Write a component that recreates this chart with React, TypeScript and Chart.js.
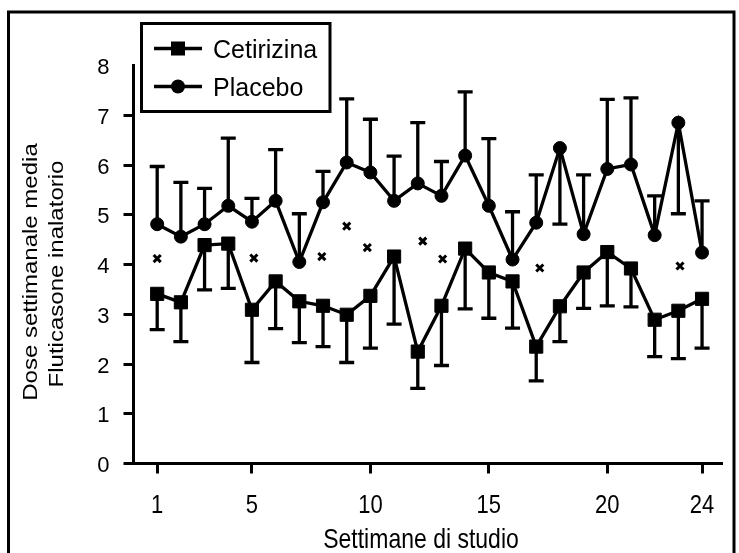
import { useEffect, useRef } from "react";
import { Chart, registerables } from "chart.js";

Chart.register(...registerables);

// Study weeks and weekly mean inhaled fluticasone dose per group
const weeks = [1, 2, 3, 4, 5, 6, 7, 8, 9, 10, 11, 12, 13, 14, 15, 16, 17, 18, 19, 20, 21, 22, 23, 24];
const cetirizina = [3.41, 3.24, 4.39, 4.42, 3.09, 3.66, 3.26, 3.17, 2.99, 3.37, 4.16, 2.25, 3.17, 4.32, 3.84, 3.66, 2.35, 3.16, 3.84, 4.25, 3.92, 2.89, 3.07, 3.31];
// lower end of each Cetirizina error bar
const cetirizinaBarEnd = [2.69, 2.45, 3.49, 3.52, 2.03, 2.71, 2.43, 2.35, 2.03, 2.32, 2.8, 1.51, 1.97, 3.11, 2.92, 2.72, 1.66, 2.45, 3.12, 3.17, 3.15, 2.15, 2.11, 2.32];
const placebo = [4.81, 4.56, 4.81, 5.18, 4.86, 5.28, 4.05, 5.25, 6.05, 5.85, 5.28, 5.63, 5.38, 6.19, 5.18, 4.1, 4.84, 6.34, 4.61, 5.92, 6.01, 4.59, 6.85, 4.24];
// end of each Placebo error bar (drawn toward this value)
const placeboBarEnd = [5.97, 5.65, 5.53, 6.54, 5.33, 6.31, 5.02, 5.87, 7.33, 6.92, 6.18, 6.85, 6.07, 7.47, 6.53, 5.06, 5.8, 4.81, 5.8, 7.32, 7.35, 5.38, 5.02, 5.28];

// significance marks
const markWeeks = [1, 5.08, 7.95, 9, 9.87, 12.21, 13.05, 17.15, 23.07];
const markValues = [4.12, 4.13, 4.16, 4.77, 4.34, 4.47, 4.11, 3.93, 3.97];

const xTicks = [1, 5, 10, 15, 20, 24];
const yTicks = [0, 1, 2, 3, 4, 5, 6, 7, 8];
const seriesNames = ["Cetirizina", "Placebo"];
const xTitle = "Settimane di studio";
const yTitle = ["Dose settimanale media", "Fluticasone inalatorio"];

const FONT = '"Liberation Sans", Arial, Helvetica, sans-serif';
const LINE_W = 3.3;

const errorBars = {
  id: "errorBars",
  beforeDatasetsDraw(chart: any) {
    const { ctx } = chart;
    const xs = chart.scales.x;
    const ys = chart.scales.y;
    const groups = [
      { values: cetirizina, ends: cetirizinaBarEnd },
      { values: placebo, ends: placeboBarEnd },
    ];
    ctx.save();
    ctx.strokeStyle = "#000";
    ctx.lineWidth = LINE_W;
    ctx.lineCap = "butt";
    groups.forEach((g) => {
      weeks.forEach((w, i) => {
        const x = xs.getPixelForValue(w);
        const y0 = ys.getPixelForValue(g.values[i]);
        const y1 = ys.getPixelForValue(g.ends[i]);
        ctx.beginPath();
        ctx.moveTo(x, y0);
        ctx.lineTo(x, y1);
        ctx.moveTo(x - 7.5, y1);
        ctx.lineTo(x + 7.5, y1);
        ctx.stroke();
      });
    });
    ctx.restore();
  },
};

const decor = {
  id: "decor",
  beforeDraw(chart: any) {
    const { ctx, width, height } = chart;
    ctx.save();
    ctx.fillStyle = "#fff";
    ctx.fillRect(0, 0, width, height);
    ctx.restore();
  },
  afterDraw(chart: any) {
    const { ctx } = chart;
    const xs = chart.scales.x;
    ctx.save();
    ctx.strokeStyle = "#000";
    ctx.fillStyle = "#000";

    // outer frame
    ctx.lineWidth = 3;
    ctx.beginPath();
    ctx.moveTo(8.5, 560);
    ctx.lineTo(8.5, 12);
    ctx.lineTo(734, 12);
    ctx.lineTo(734, 560);
    ctx.stroke();

    // x tick labels
    ctx.font = `22px ${FONT}`;
    ctx.textAlign = "center";
    ctx.textBaseline = "alphabetic";
    xTicks.forEach((t) => {
      const x = xs.getPixelForValue(t);
      ctx.save();
      ctx.translate(x, 513);
      ctx.scale(1, 1.2);
      ctx.fillText(String(t), 0, 0);
      ctx.restore();
    });

    // x title
    ctx.save();
    ctx.font = `23px ${FONT}`;
    ctx.translate(421, 548);
    ctx.scale(1, 1.2);
    ctx.fillText(xTitle, 0, 0);
    ctx.restore();

    // y title (two rotated lines)
    ctx.font = `20px ${FONT}`;
    const yLines = [
      { x: 36.5, y: 272 },
      { x: 63, y: 274 },
    ];
    yTitle.forEach((line, i) => {
      ctx.save();
      ctx.translate(yLines[i].x, yLines[i].y);
      ctx.rotate(-Math.PI / 2);
      ctx.scale(1.2, 1);
      ctx.fillText(line, 0, 0);
      ctx.restore();
    });

    // legend
    ctx.fillStyle = "#fff";
    ctx.fillRect(141.5, 23.5, 188.5, 88);
    ctx.fillStyle = "#000";
    ctx.lineWidth = 3;
    ctx.strokeRect(141.5, 23.5, 188.5, 88);
    const rows = [48.5, 86.5];
    ctx.font = `25px ${FONT}`;
    ctx.textAlign = "left";
    ctx.lineWidth = LINE_W;
    rows.forEach((ry, i) => {
      ctx.beginPath();
      ctx.moveTo(154, ry);
      ctx.lineTo(202, ry);
      ctx.stroke();
      if (i === 0) {
        ctx.fillRect(171, ry - 7, 14, 14);
      } else {
        ctx.beginPath();
        ctx.arc(178, ry, 7, 0, Math.PI * 2);
        ctx.fill();
      }
      ctx.fillText(seriesNames[i], 213, ry + 9.5);
    });
    ctx.restore();
  },
};

export default function App() {
  const canvasRef = useRef<HTMLCanvasElement | null>(null);

  useEffect(() => {
    document.body.style.margin = "0";
    const canvas = canvasRef.current;
    if (!canvas) return;

    const chart = new Chart(canvas, {
      type: "line",
      data: {
        datasets: [
          {
            label: seriesNames[0],
            data: weeks.map((w, i) => ({ x: w, y: cetirizina[i] })),
            borderColor: "#000",
            borderWidth: LINE_W,
            backgroundColor: "#000",
            pointStyle: "rect",
            pointRadius: 9.3,
            pointBorderWidth: 1,
            pointBackgroundColor: "#000",
            pointBorderColor: "#000",
            tension: 0,
          },
          {
            label: seriesNames[1],
            data: weeks.map((w, i) => ({ x: w, y: placebo[i] })),
            borderColor: "#000",
            borderWidth: LINE_W,
            backgroundColor: "#000",
            pointStyle: "circle",
            pointRadius: 6.5,
            pointBorderWidth: 1,
            pointBackgroundColor: "#000",
            pointBorderColor: "#000",
            tension: 0,
          },
          {
            label: "x",
            data: markWeeks.map((w, i) => ({ x: w, y: markValues[i] })),
            showLine: false,
            borderColor: "#000",
            backgroundColor: "#000",
            pointStyle: "crossRot",
            pointRadius: 5,
            pointBorderWidth: 3,
            pointBorderColor: "#000",
          },
        ],
      },
      options: {
        responsive: false,
        animation: false,
        devicePixelRatio: 1,
        events: [],
        layout: { padding: { top: 65.5, right: 18, left: 0, bottom: 0 } },
        plugins: {
          legend: { display: false },
          tooltip: { enabled: false },
        },
        scales: {
          x: {
            type: "linear",
            min: 0,
            max: 24.8,
            afterBuildTicks: (s: any) => {
              s.ticks = xTicks.map((v) => ({ value: v }));
            },
            afterFit: (s: any) => {
              s.height = 89.5;
            },
            ticks: { display: false },
            grid: {
              drawOnChartArea: false,
              drawTicks: true,
              tickLength: 10,
              lineWidth: 3,
              color: "#000",
            },
            border: { display: true, width: 3, color: "#000" },
          },
          y: {
            type: "linear",
            min: 0,
            max: 8,
            afterBuildTicks: (s: any) => {
              s.ticks = yTicks.map((v) => ({ value: v }));
            },
            afterFit: (s: any) => {
              s.width = 133.5;
            },
            ticks: {
              color: "#000",
              font: { family: FONT, size: 22 },
              padding: 14,
              labelOffset: 2.5,
            },
            grid: {
              drawOnChartArea: false,
              drawTicks: true,
              tickLength: 10,
              lineWidth: 3,
              color: (c: any) => (c.tick && c.tick.value === 8 ? "rgba(0,0,0,0)" : "#000"),
            },
            border: { display: true, width: 3, color: "#000" },
          },
        },
      },
      plugins: [decor, errorBars],
    });

    return () => chart.destroy();
  }, []);

  return (
    <div style={{ width: 739, height: 553 }}>
      <canvas ref={canvasRef} width={739} height={553} style={{ display: "block", width: 739, height: 553 }} />
    </div>
  );
}
